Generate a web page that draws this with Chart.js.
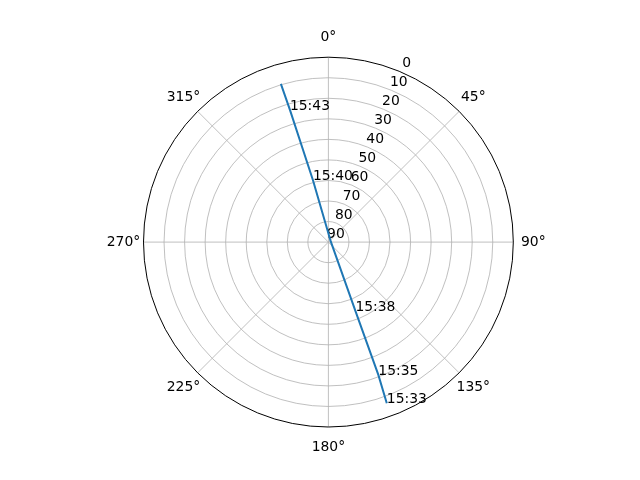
<!DOCTYPE html>
<html><head><meta charset="utf-8">
<script src="https://cdn.jsdelivr.net/npm/chart.js@4.4.1/dist/chart.umd.min.js"></script>
<style>html,body{margin:0;padding:0;background:#fff;} canvas{display:block;}</style>
</head><body>
<canvas id="c" width="640" height="480"></canvas>
<script>
// Satellite pass: time, azimuth (deg, clockwise from north), elevation (deg)
const times      = ['15:33', '15:35', '15:38', '15:39', '15:40', '15:43', '15:44'];
const azimuths   = [160.1,   159.4,   158.6,   80.0,    346.0,   343.8,   343.3];
const elevations = [6.5,     20.9,    54.0,    88.8,    58.8,    22.9,    9.5];
const labeledTimes = ['15:33', '15:35', '15:38', '15:40', '15:43'];

const angleTicks = [0, 45, 90, 135, 180, 225, 270, 315];
const angleTickLabels = ['0°', '45°', '90°', '135°', '180°', '225°', '270°', '315°'];
const elevationTicks = [0, 10, 20, 30, 40, 50, 60, 70, 80, 90];
const elevationTickLabels = ['0', '10', '20', '30', '40', '50', '60', '70', '80', '90'];

const FONT = '13.9px "DejaVu Sans"';
const rad = d => d * Math.PI / 180;
// polar (az, el) -> cartesian in zenith-distance units
const toXY = (az, el) => ({ x: (90 - el) * Math.sin(rad(az)), y: (90 - el) * Math.cos(rad(az)) });

const points = azimuths.map((az, i) => Object.assign(toXY(az, elevations[i]), { t: times[i] }));

const polarGrid = {
  id: 'polarGrid',
  beforeDatasetsDraw(chart) {
    const { ctx, scales: { x, y } } = chart;
    const cx = x.getPixelForValue(0), cy = y.getPixelForValue(0);
    const pxPer = (x.getPixelForValue(90) - cx) / 90;
    ctx.save();
    // rings
    ctx.strokeStyle = '#b0b0b0';
    ctx.lineWidth = 0.8;
    elevationTicks.forEach(el => {
      const r = (90 - el) * pxPer;
      if (r <= 0 || el === 0) return;
      ctx.beginPath(); ctx.arc(cx, cy, r, 0, Math.PI * 2); ctx.stroke();
    });
    const R = 90 * pxPer;
    ctx.strokeStyle = '#b0b0b0';
    angleTicks.forEach(a => {
      ctx.beginPath();
      ctx.moveTo(cx, cy);
      ctx.lineTo(cx + R * Math.sin(rad(a)), cy - R * Math.cos(rad(a)));
      ctx.stroke();
    });
    // outer spine
    ctx.strokeStyle = '#000';
    ctx.lineWidth = 1;
    ctx.beginPath(); ctx.arc(cx, cy, R, 0, Math.PI * 2); ctx.stroke();
    // angle labels
    ctx.fillStyle = '#000';
    ctx.font = FONT;
    ctx.textAlign = 'center';
    ctx.textBaseline = 'middle';
    angleTicks.forEach((a, i) => {
      const rr = R + 20;
      ctx.fillText(angleTickLabels[i], cx + rr * Math.sin(rad(a)), cy - rr * Math.cos(rad(a)));
    });
    // radial labels along 22.5 deg
    elevationTicks.forEach((el, i) => {
      const r = (90 - el) * pxPer;
      const px = cx + r * Math.sin(rad(22.5)) + 7.5;
      const py = cy - r * Math.cos(rad(22.5)) - 8;
      ctx.fillText(elevationTickLabels[i], px, py);
    });
    ctx.restore();
  },
  afterDatasetsDraw(chart) {
    const { ctx, scales: { x, y } } = chart;
    ctx.save();
    ctx.fillStyle = '#000';
    ctx.font = FONT;
    ctx.textAlign = 'left';
    ctx.textBaseline = 'alphabetic';
    points.forEach(p => {
      if (labeledTimes.includes(p.t)) {
        ctx.fillText(p.t, x.getPixelForValue(p.x), y.getPixelForValue(p.y));
      }
    });
    ctx.restore();
  }
};

new Chart(document.getElementById('c'), {
  type: 'scatter',
  data: {
    datasets: [{
      data: points,
      showLine: true,
      borderColor: '#1f77b4',
      borderWidth: 2,
      pointRadius: 0,
      fill: false,
      tension: 0
    }]
  },
  options: {
    responsive: false,
    animation: false,
    devicePixelRatio: 1,
    layout: { padding: { left: 143.5, right: 126.7, top: 57.4, bottom: 53.2 } },
    plugins: { legend: { display: false }, tooltip: { enabled: false } },
    scales: {
      x: { type: 'linear', min: -90, max: 90, display: false },
      y: { type: 'linear', min: -90, max: 90, display: false }
    }
  },
  plugins: [polarGrid]
});
</script>
</body></html>
